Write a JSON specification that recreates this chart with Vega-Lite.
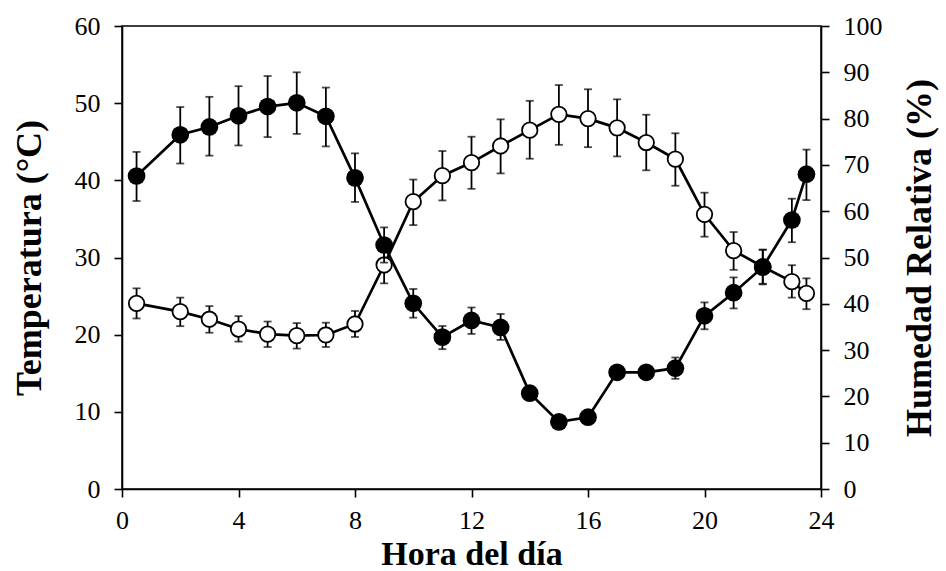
{
  "$schema": "https://vega.github.io/schema/vega-lite/v6.json",
  "width": 699,
  "height": 463,
  "autosize": {"type": "none"},
  "padding": {"left": 122, "top": 26, "right": 125, "bottom": 82},
  "background": "white",
  "config": {
    "view": {"stroke": "black", "strokeWidth": 1.5},
    "font": "Liberation Serif",
    "axis": {
      "grid": false,
      "domainColor": "black",
      "domainWidth": 1.6,
      "tickColor": "black",
      "tickWidth": 1.6,
      "tickSize": 8,
      "labelColor": "black",
      "labelFont": "Liberation Serif",
      "labelFontSize": 26,
      "titleFont": "Liberation Serif",
      "titleFontSize": 36,
      "titleFontWeight": "bold",
      "titleColor": "black"
    }
  },
  "data": {
    "values": [
      {"hour": 0.5, "temp": 24.06, "temp_lo": 22.1, "temp_hi": 26.0, "hum": 67.6, "hum_lo": 62.2, "hum_hi": 72.8},
      {"hour": 2, "temp": 22.98, "temp_lo": 21.1, "temp_hi": 24.8, "hum": 76.5, "hum_lo": 70.3, "hum_hi": 82.5},
      {"hour": 3, "temp": 22.0, "temp_lo": 20.25, "temp_hi": 23.7, "hum": 78.2, "hum_lo": 72.0, "hum_hi": 84.7},
      {"hour": 4, "temp": 20.73, "temp_lo": 19.1, "temp_hi": 22.4, "hum": 80.6, "hum_lo": 74.2, "hum_hi": 87.0},
      {"hour": 5, "temp": 20.08, "temp_lo": 18.4, "temp_hi": 21.7, "hum": 82.6, "hum_lo": 76.0, "hum_hi": 89.2},
      {"hour": 6, "temp": 19.87, "temp_lo": 18.2, "temp_hi": 21.5, "hum": 83.4, "hum_lo": 76.7, "hum_hi": 90.0},
      {"hour": 7, "temp": 19.96, "temp_lo": 18.4, "temp_hi": 21.55, "hum": 80.5, "hum_lo": 74.0, "hum_hi": 86.7},
      {"hour": 8, "temp": 21.38, "temp_lo": 19.7, "temp_hi": 23.07, "hum": 67.2, "hum_lo": 62.0, "hum_hi": 72.5},
      {"hour": 9, "temp": 29.03, "temp_lo": 26.65, "temp_hi": 31.4, "hum": 52.7, "hum_lo": 48.9, "hum_hi": 56.5},
      {"hour": 10, "temp": 37.23, "temp_lo": 34.2, "temp_hi": 40.1, "hum": 40.1, "hum_lo": 37.0, "hum_hi": 43.2},
      {"hour": 11, "temp": 40.6, "temp_lo": 37.4, "temp_hi": 43.8, "hum": 32.8, "hum_lo": 30.2, "hum_hi": 35.2},
      {"hour": 12, "temp": 42.3, "temp_lo": 38.9, "temp_hi": 45.65, "hum": 36.4, "hum_lo": 33.5, "hum_hi": 39.2},
      {"hour": 13, "temp": 44.45, "temp_lo": 40.9, "temp_hi": 47.9, "hum": 34.9, "hum_lo": 32.2, "hum_hi": 37.8},
      {"hour": 14, "temp": 46.5, "temp_lo": 42.8, "temp_hi": 50.3, "hum": 20.7, "hum_lo": 19.2, "hum_hi": 22.2},
      {"hour": 15, "temp": 48.55, "temp_lo": 44.6, "temp_hi": 52.35, "hum": 14.5, "hum_lo": 13.3, "hum_hi": 15.7},
      {"hour": 16, "temp": 48.0, "temp_lo": 44.3, "temp_hi": 51.8, "hum": 15.5, "hum_lo": 14.3, "hum_hi": 16.7},
      {"hour": 17, "temp": 46.8, "temp_lo": 43.1, "temp_hi": 50.5, "hum": 25.2, "hum_lo": 23.9, "hum_hi": 26.5},
      {"hour": 18, "temp": 44.9, "temp_lo": 41.3, "temp_hi": 48.5, "hum": 25.2, "hum_lo": 23.9, "hum_hi": 26.5},
      {"hour": 19, "temp": 42.76, "temp_lo": 39.3, "temp_hi": 46.1, "hum": 26.1, "hum_lo": 23.8, "hum_hi": 28.4},
      {"hour": 20, "temp": 35.6, "temp_lo": 32.7, "temp_hi": 38.4, "hum": 37.4, "hum_lo": 34.5, "hum_hi": 40.3},
      {"hour": 21, "temp": 30.9, "temp_lo": 28.4, "temp_hi": 33.3, "hum": 42.4, "hum_lo": 39.0, "hum_hi": 45.7},
      {"hour": 22, "temp": 28.8, "temp_lo": 26.6, "temp_hi": 31.0, "hum": 47.9, "hum_lo": 44.2, "hum_hi": 51.7},
      {"hour": 23, "temp": 26.87, "temp_lo": 24.8, "temp_hi": 29.0, "hum": 58.1, "hum_lo": 53.3, "hum_hi": 62.7},
      {"hour": 23.5, "temp": 25.36, "temp_lo": 23.3, "temp_hi": 27.3, "hum": 68.0, "hum_lo": 62.4, "hum_hi": 73.3}
    ]
  },
  "encoding": {
    "x": {
      "field": "hour",
      "type": "quantitative",
      "scale": {"domain": [0, 24], "nice": false},
      "axis": {"values": [0, 4, 8, 12, 16, 20, 24], "title": "Hora del día", "labelPadding": 10, "titlePadding": 4, "titleFontSize": 34, "labelFlush": false}
    }
  },
  "layer": [
    {
      "layer": [
        {
          "mark": {"type": "rule", "color": "black", "strokeWidth": 1.8},
          "encoding": {
            "y": {"field": "temp_lo", "type": "quantitative", "title": "Temperatura (°C)", "scale": {"domain": [0, 60], "nice": false}, "axis": {"orient": "left", "values": [0, 10, 20, 30, 40, 50, 60], "labelPadding": 14, "titlePadding": 26}},
            "y2": {"field": "temp_hi"}
          }
        },
        {
          "mark": {"type": "tick", "orient": "horizontal", "color": "black", "size": 8, "thickness": 1.8},
          "encoding": {
            "y": {"field": "temp_lo", "type": "quantitative", "title": "Temperatura (°C)", "scale": {"domain": [0, 60], "nice": false}, "axis": {"orient": "left", "values": [0, 10, 20, 30, 40, 50, 60], "labelPadding": 14, "titlePadding": 26}}
          }
        },
        {
          "mark": {"type": "tick", "orient": "horizontal", "color": "black", "size": 8, "thickness": 1.8},
          "encoding": {
            "y": {"field": "temp_hi", "type": "quantitative", "title": "Temperatura (°C)", "scale": {"domain": [0, 60], "nice": false}, "axis": {"orient": "left", "values": [0, 10, 20, 30, 40, 50, 60], "labelPadding": 14, "titlePadding": 26}}
          }
        },
        {
          "mark": {"type": "line", "color": "black", "strokeWidth": 2.7},
          "encoding": {
            "y": {"field": "temp", "type": "quantitative", "title": "Temperatura (°C)", "scale": {"domain": [0, 60], "nice": false}, "axis": {"orient": "left", "values": [0, 10, 20, 30, 40, 50, 60], "labelPadding": 14, "titlePadding": 26}}
          }
        },
        {
          "mark": {"type": "point", "shape": "circle", "filled": true, "fill": "white", "stroke": "black", "strokeWidth": 1.8, "size": 240, "opacity": 1},
          "encoding": {
            "y": {"field": "temp", "type": "quantitative", "title": "Temperatura (°C)", "scale": {"domain": [0, 60], "nice": false}, "axis": {"orient": "left", "values": [0, 10, 20, 30, 40, 50, 60], "labelPadding": 14, "titlePadding": 26}}
          }
        }
      ]
    },
    {
      "layer": [
        {
          "mark": {"type": "rule", "color": "black", "strokeWidth": 1.8},
          "encoding": {
            "y": {"field": "hum_lo", "type": "quantitative", "title": "Humedad Relativa (%)", "scale": {"domain": [0, 100], "nice": false}, "axis": {"orient": "right", "values": [0, 10, 20, 30, 40, 50, 60, 70, 80, 90, 100], "labelPadding": 14, "titlePadding": 20, "titleAngle": -90, "titleBaseline": "top"}},
            "y2": {"field": "hum_hi"}
          }
        },
        {
          "mark": {"type": "tick", "orient": "horizontal", "color": "black", "size": 8, "thickness": 1.8},
          "encoding": {
            "y": {"field": "hum_lo", "type": "quantitative", "title": "Humedad Relativa (%)", "scale": {"domain": [0, 100], "nice": false}, "axis": {"orient": "right", "values": [0, 10, 20, 30, 40, 50, 60, 70, 80, 90, 100], "labelPadding": 14, "titlePadding": 20, "titleAngle": -90, "titleBaseline": "top"}}
          }
        },
        {
          "mark": {"type": "tick", "orient": "horizontal", "color": "black", "size": 8, "thickness": 1.8},
          "encoding": {
            "y": {"field": "hum_hi", "type": "quantitative", "title": "Humedad Relativa (%)", "scale": {"domain": [0, 100], "nice": false}, "axis": {"orient": "right", "values": [0, 10, 20, 30, 40, 50, 60, 70, 80, 90, 100], "labelPadding": 14, "titlePadding": 20, "titleAngle": -90, "titleBaseline": "top"}}
          }
        },
        {
          "mark": {"type": "line", "color": "black", "strokeWidth": 2.7},
          "encoding": {
            "y": {"field": "hum", "type": "quantitative", "title": "Humedad Relativa (%)", "scale": {"domain": [0, 100], "nice": false}, "axis": {"orient": "right", "values": [0, 10, 20, 30, 40, 50, 60, 70, 80, 90, 100], "labelPadding": 14, "titlePadding": 20, "titleAngle": -90, "titleBaseline": "top"}}
          }
        },
        {
          "mark": {"type": "point", "shape": "circle", "filled": true, "fill": "black", "stroke": "black", "strokeWidth": 0, "size": 314, "opacity": 1},
          "encoding": {
            "y": {"field": "hum", "type": "quantitative", "title": "Humedad Relativa (%)", "scale": {"domain": [0, 100], "nice": false}, "axis": {"orient": "right", "values": [0, 10, 20, 30, 40, 50, 60, 70, 80, 90, 100], "labelPadding": 14, "titlePadding": 20, "titleAngle": -90, "titleBaseline": "top"}}
          }
        }
      ]
    }
  ],
  "resolve": {"scale": {"y": "independent"}}
}
